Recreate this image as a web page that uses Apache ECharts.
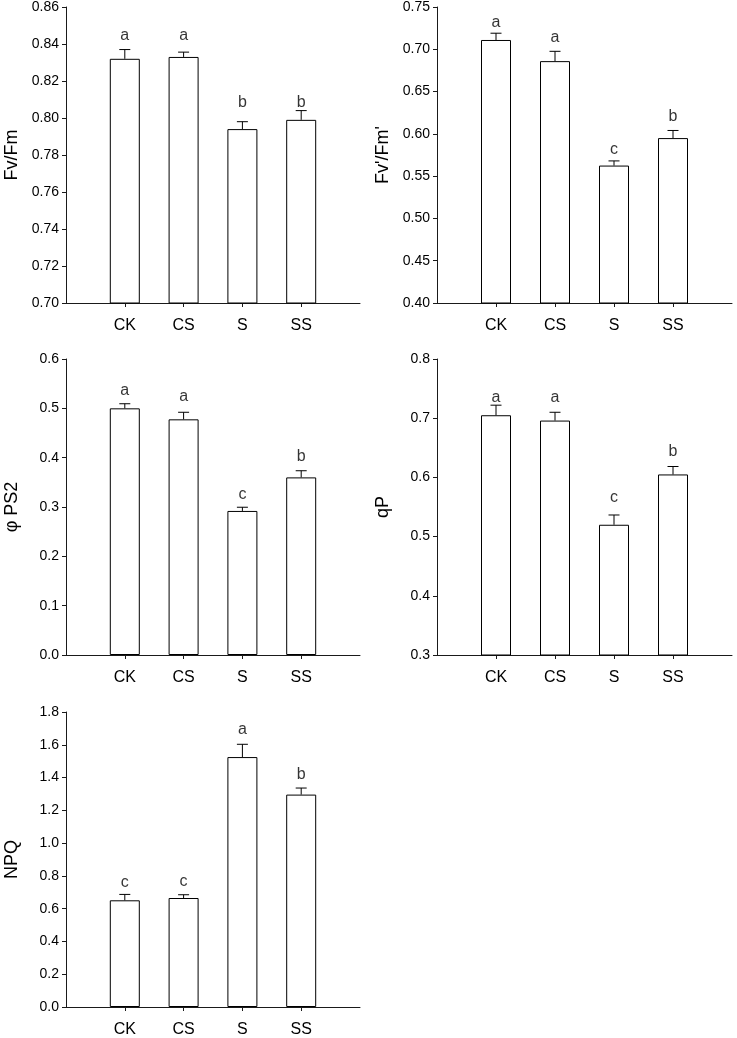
<!DOCTYPE html>
<html>
<head>
<meta charset="utf-8">
<script src="https://cdn.jsdelivr.net/npm/echarts@6/dist/echarts.min.js"></script>
<style>
html,body{margin:0;padding:0;background:#fff;}
#c{width:737px;height:1038px;}
</style>
</head>
<body>
<div id="c"></div>
<script>
const categories = ['CK', 'CS', 'S', 'SS'];

// Panel 1: Fv/Fm
const fvfmMean = [0.832, 0.833, 0.794, 0.799];
const fvfmSE = [0.005, 0.0026, 0.004, 0.005];
const fvfmLetters = ['a', 'a', 'b', 'b'];
const fvfmLetterY = [0.842, 0.842, 0.8054, 0.8054];

// Panel 2: Fv'/Fm'
const fvfmpMean = [0.711, 0.686, 0.5625, 0.595];
const fvfmpSE = [0.008, 0.0116, 0.0055, 0.009];
const fvfmpLetters = ['a', 'a', 'c', 'b'];
const fvfmpLetterY = [0.726, 0.708, 0.576, 0.614];

// Panel 3: φ PS2
const phiMean = [0.500, 0.4777, 0.292, 0.360];
const phiSE = [0.0093, 0.0143, 0.0075, 0.0135];
const phiLetters = ['a', 'a', 'c', 'b'];
const phiLetterY = [0.525, 0.5135, 0.316, 0.392];

// Panel 4: qP
const qpMean = [0.705, 0.696, 0.520, 0.605];
const qpSE = [0.017, 0.014, 0.0165, 0.0134];
const qpLetters = ['a', 'a', 'c', 'b'];
const qpLetterY = [0.726, 0.727, 0.557, 0.635];

// Panel 5: NPQ
const npqMean = [0.651, 0.665, 1.525, 1.296];
const npqSE = [0.036, 0.020, 0.078, 0.040];
const npqLetters = ['c', 'c', 'a', 'b'];
const npqLetterY = [0.728, 0.732, 1.662, 1.389];

// Y axis settings per panel
const yMins = [0.70, 0.40, 0.0, 0.3, 0.0];
const yMaxs = [0.86, 0.75, 0.6, 0.8, 1.8];
const yIntervals = [0.02, 0.05, 0.1, 0.1, 0.2];
const yDecimals = [2, 2, 1, 1, 1];
const yNames = ['Fv/Fm', "Fv'/Fm'", 'φ PS2', 'qP', 'NPQ'];

const panels = [
  {mean: fvfmMean, se: fvfmSE, letters: fvfmLetters, ly: fvfmLetterY},
  {mean: fvfmpMean, se: fvfmpSE, letters: fvfmpLetters, ly: fvfmpLetterY},
  {mean: phiMean, se: phiSE, letters: phiLetters, ly: phiLetterY},
  {mean: qpMean, se: qpSE, letters: qpLetters, ly: qpLetterY},
  {mean: npqMean, se: npqSE, letters: npqLetters, ly: npqLetterY}
];

const grids = [
  {left: 66, top: 6, width: 294, height: 297},
  {left: 437, top: 7, width: 295, height: 296},
  {left: 66, top: 359, width: 294, height: 296},
  {left: 437, top: 359, width: 295, height: 296},
  {left: 66, top: 712, width: 294, height: 297}
];

const FONT = 'Liberation Sans, Arial, sans-serif';
const axisCats = [''].concat(categories, ['']);
const AX = '#1a1a1a';

const xAxes = [], yAxes = [], series = [];
panels.forEach((p, i) => {
  xAxes.push({
    gridIndex: i, type: 'category', data: axisCats, boundaryGap: false,
    axisLine: {lineStyle: {color: AX, width: 1}},
    axisTick: {show: true, length: 4, lineStyle: {color: AX},
      interval: (idx, v) => v !== ''},
    axisLabel: {interval: 0, color: '#000', fontSize: 16, fontFamily: FONT, margin: 15},
    splitLine: {show: false}
  });
  yAxes.push({
    gridIndex: i, type: 'value', min: yMins[i], max: yMaxs[i], interval: yIntervals[i],
    name: yNames[i], nameLocation: 'middle', nameRotate: 90, nameGap: 45,
    nameTextStyle: {color: '#000', fontSize: 18, fontFamily: FONT},
    axisLine: {show: true, lineStyle: {color: AX, width: 1}},
    axisTick: {show: true, length: 4, inside: false, lineStyle: {color: AX}},
    axisLabel: {color: '#000', fontSize: 14, fontFamily: FONT, margin: 7,
      formatter: v => v.toFixed(yDecimals[i])},
    splitLine: {show: false}
  });
  const barData = ['-'].concat(p.mean, ['-']);
  series.push({
    type: 'bar', xAxisIndex: i, yAxisIndex: i, data: barData, barWidth: 30,
    itemStyle: {color: '#fff', borderColor: '#000', borderWidth: 1},
    silent: true, animation: false
  });
  series.push({
    type: 'custom', xAxisIndex: i, yAxisIndex: i,
    data: p.mean.map((m, k) => [k + 1, m, m + p.se[k]]),
    renderItem: (params, api) => {
      const a = api.coord([api.value(0), api.value(1)]);
      const b = api.coord([api.value(0), api.value(2)]);
      const st = {stroke: '#000', lineWidth: 1};
      return {type: 'group', children: [
        {type: 'line', shape: {x1: a[0], y1: a[1], x2: b[0], y2: b[1]}, style: st},
        {type: 'line', shape: {x1: b[0] - 5.5, y1: b[1], x2: b[0] + 5.5, y2: b[1]}, style: st}
      ]};
    },
    silent: true, animation: false, z: 3
  });
  series.push({
    type: 'scatter', xAxisIndex: i, yAxisIndex: i, symbolSize: 0,
    data: p.ly.map((y, k) => [k + 1, y]),
    label: {show: true, position: 'top', distance: -3, color: '#000', fontSize: 16,
      fontFamily: FONT, formatter: q => p.letters[q.dataIndex]},
    silent: true, animation: false
  });
});

const chart = echarts.init(document.getElementById('c'), null, {renderer: 'canvas'});
chart.setOption({
  animation: false,
  backgroundColor: '#fff',
  grid: grids,
  xAxis: xAxes,
  yAxis: yAxes,
  series: series
});
</script>
</body>
</html>
